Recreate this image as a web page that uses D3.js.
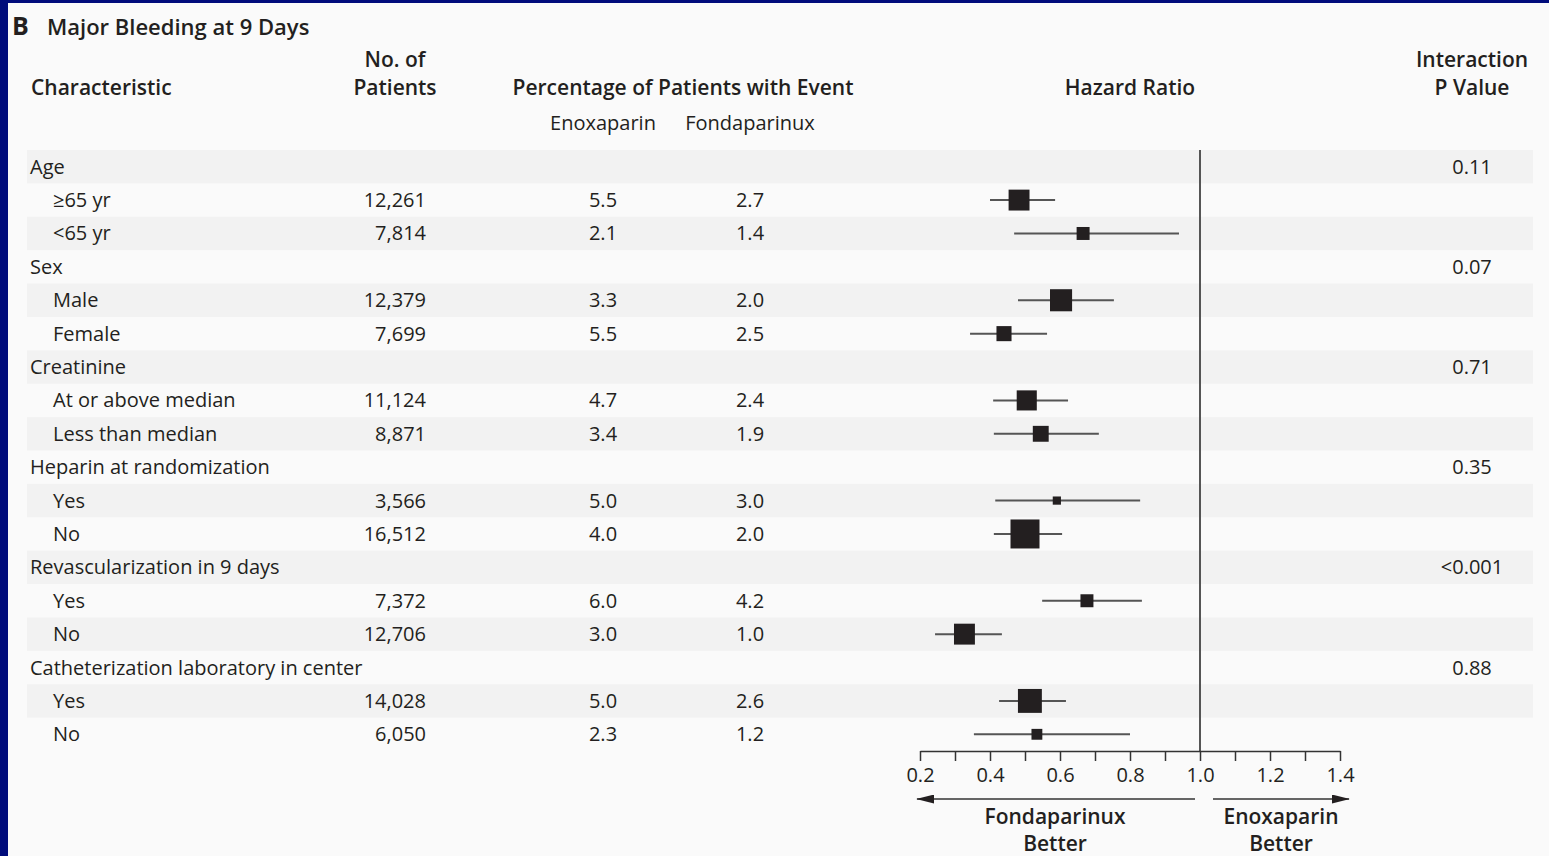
<!DOCTYPE html>
<html>
<head>
<meta charset="utf-8">
<script src="https://cdn.jsdelivr.net/npm/d3@7"></script>
<style>
  html, body { margin: 0; padding: 0; background: #000c7b; }
  svg { display: block; }
  text { font-family: "Open Sans", "DejaVu Sans", sans-serif; fill: #231f20; }
</style>
</head>
<body>
<div id="chart"></div>
<script>
const width = 1549;
const height = 856;

// data
const labels = ["Age", "\u226565 yr", "<65 yr", "Sex", "Male", "Female", "Creatinine",
  "At or above median", "Less than median", "Heparin at randomization", "Yes", "No",
  "Revascularization in 9 days", "Yes", "No", "Catheterization laboratory in center", "Yes", "No"];
const isGroup = [1, 0, 0, 1, 0, 0, 1, 0, 0, 1, 0, 0, 1, 0, 0, 1, 0, 0];
const patients = ["", "12,261", "7,814", "", "12,379", "7,699", "", "11,124", "8,871", "", "3,566", "16,512", "", "7,372", "12,706", "", "14,028", "6,050"];
const enox = ["", "5.5", "2.1", "", "3.3", "5.5", "", "4.7", "3.4", "", "5.0", "4.0", "", "6.0", "3.0", "", "5.0", "2.3"];
const fonda = ["", "2.7", "1.4", "", "2.0", "2.5", "", "2.4", "1.9", "", "3.0", "2.0", "", "4.2", "1.0", "", "2.6", "1.2"];
const pValues = ["0.11", "", "", "0.07", "", "", "0.71", "", "", "0.35", "", "", "<0.001", "", "", "0.88", "", ""];
const hr =     [null, 0.483, 0.666, null, 0.603, 0.440, null, 0.505, 0.545, null, 0.591, 0.500, null, 0.677, 0.327, null, 0.514, 0.534];
const ciLow =  [null, 0.400, 0.469, null, 0.480, 0.343, null, 0.409, 0.411, null, 0.415, 0.411, null, 0.549, 0.243, null, 0.426, 0.354];
const ciHigh = [null, 0.586, 0.940, null, 0.754, 0.563, null, 0.623, 0.711, null, 0.829, 0.606, null, 0.834, 0.434, null, 0.617, 0.800];
const weight = [null, 52, 20, null, 58, 27, null, 48, 30, null, 8, 100, null, 20, 52, null, 68, 14];
const hrTicks = [0.2, 0.3, 0.4, 0.5, 0.6, 0.7, 0.8, 0.9, 1.0, 1.1, 1.2, 1.3, 1.4];

const rows = labels.map((d, i) => ({
  i, label: d, group: isGroup[i], n: patients[i], enox: enox[i], fonda: fonda[i],
  p: pValues[i], hr: hr[i], lo: ciLow[i], hi: ciHigh[i], w: weight[i]
}));

const svg = d3.select("#chart").append("svg")
    .attr("width", width)
    .attr("height", height);

// panel
svg.append("rect")
    .attr("x", 8).attr("y", 3)
    .attr("width", width - 8).attr("height", height - 3)
    .attr("fill", "#fafafa");

const x = d3.scaleLinear().domain([0.2, 1.4]).range([920, 1340]);
const y = d3.scaleBand().domain(d3.range(rows.length)).range([150, 751]);
const size = d3.scaleSqrt().domain([0, 100]).range([0, 29]);

// stripes
svg.append("g").selectAll("rect")
  .data(rows.filter(d => d.i % 2 === 0))
  .join("rect")
    .attr("x", 27)
    .attr("y", d => y(d.i))
    .attr("width", 1533 - 27)
    .attr("height", y.bandwidth())
    .attr("fill", "#f2f2f2");

// title
svg.append("text").attr("x", 12).attr("y", 35)
    .style("font-size", "25px").style("font-weight", "700").text("B");
svg.append("text").attr("x", 47).attr("y", 35)
    .style("font-size", "22px").style("font-weight", "600").text("Major Bleeding at 9 Days");

// headers
const head = svg.append("g").style("font-size", "21px").style("font-weight", "600");
head.append("text").attr("x", 31).attr("y", 95).text("Characteristic");
head.append("text").attr("x", 395).attr("y", 67).attr("text-anchor", "middle").text("No. of");
head.append("text").attr("x", 395).attr("y", 95).attr("text-anchor", "middle").text("Patients");
head.append("text").attr("x", 683).attr("y", 95).attr("text-anchor", "middle").text("Percentage of Patients with Event");
head.append("text").attr("x", 1130).attr("y", 95).attr("text-anchor", "middle").text("Hazard Ratio");
head.append("text").attr("x", 1472).attr("y", 67).attr("text-anchor", "middle").text("Interaction");
head.append("text").attr("x", 1472).attr("y", 95).attr("text-anchor", "middle").text("P Value");

const sub = svg.append("g").style("font-size", "20px");
sub.append("text").attr("x", 603).attr("y", 130).attr("text-anchor", "middle").text("Enoxaparin");
sub.append("text").attr("x", 750).attr("y", 130).attr("text-anchor", "middle").text("Fondaparinux");

// table rows
const row = svg.append("g").style("font-size", "20px")
  .selectAll("g")
  .data(rows)
  .join("g")
    .attr("transform", d => `translate(0,${y(d.i) + y.bandwidth() / 2 + 7})`);

row.append("text").attr("x", d => d.group ? 30 : 53).text(d => d.label);
row.append("text").attr("x", 426).attr("text-anchor", "end").text(d => d.n);
row.append("text").attr("x", 603).attr("text-anchor", "middle").text(d => d.enox);
row.append("text").attr("x", 750).attr("text-anchor", "middle").text(d => d.fonda);
row.append("text").attr("x", 1472).attr("text-anchor", "middle").text(d => d.p);

// reference line at HR 1.0
svg.append("line")
    .attr("x1", x(1)).attr("x2", x(1))
    .attr("y1", 150).attr("y2", 751)
    .attr("stroke", "#555").attr("stroke-width", 2);

// CIs and squares
const est = rows.filter(d => d.hr != null);
const plot = svg.append("g");
plot.selectAll("line")
  .data(est)
  .join("line")
    .attr("x1", d => x(d.lo)).attr("x2", d => x(d.hi))
    .attr("y1", d => y(d.i) + y.bandwidth() / 2)
    .attr("y2", d => y(d.i) + y.bandwidth() / 2)
    .attr("stroke", "#555").attr("stroke-width", 2);
plot.selectAll("rect")
  .data(est)
  .join("rect")
    .attr("x", d => x(d.hr) - size(d.w) / 2)
    .attr("y", d => y(d.i) + y.bandwidth() / 2 - size(d.w) / 2)
    .attr("width", d => size(d.w))
    .attr("height", d => size(d.w))
    .attr("fill", "#231f20");

// axis
const axis = svg.append("g")
    .attr("transform", "translate(0,751)")
    .call(d3.axisBottom(x)
      .tickValues(hrTicks)
      .tickSize(10)
      .tickSizeOuter(0)
      .tickFormat(d => Math.round(d * 10) % 2 === 0 ? d3.format(".1f")(d) : ""));
axis.selectAll("path, line").attr("stroke", "#333").attr("stroke-width", 1.5);
axis.selectAll("text")
    .attr("dy", null).attr("y", 31)
    .style("font-size", "20px")
    .style("font-family", "'Open Sans', sans-serif")
    .attr("fill", "#231f20");

// arrows
const defs = svg.append("defs");
defs.append("marker")
    .attr("id", "arrow")
    .attr("viewBox", "0 0 20 10")
    .attr("refX", 19).attr("refY", 5)
    .attr("markerWidth", 18).attr("markerHeight", 9)
    .attr("markerUnits", "userSpaceOnUse")
    .attr("orient", "auto")
  .append("path")
    .attr("d", "M0,0L20,5L0,10Z")
    .attr("fill", "#231f20");

svg.append("line")
    .attr("x1", x(1) - 5).attr("x2", x(0.2) - 3)
    .attr("y1", 799).attr("y2", 799)
    .attr("stroke", "#333").attr("stroke-width", 1.5)
    .attr("marker-end", "url(#arrow)");
svg.append("line")
    .attr("x1", x(1) + 13).attr("x2", x(1.4) + 9)
    .attr("y1", 799).attr("y2", 799)
    .attr("stroke", "#333").attr("stroke-width", 1.5)
    .attr("marker-end", "url(#arrow)");

const better = svg.append("g").style("font-size", "21px").style("font-weight", "600")
    .attr("text-anchor", "middle");
better.append("text").attr("x", 1055).attr("y", 824).text("Fondaparinux");
better.append("text").attr("x", 1055).attr("y", 851).text("Better");
better.append("text").attr("x", 1281).attr("y", 824).text("Enoxaparin");
better.append("text").attr("x", 1281).attr("y", 851).text("Better");
</script>
</body>
</html>
